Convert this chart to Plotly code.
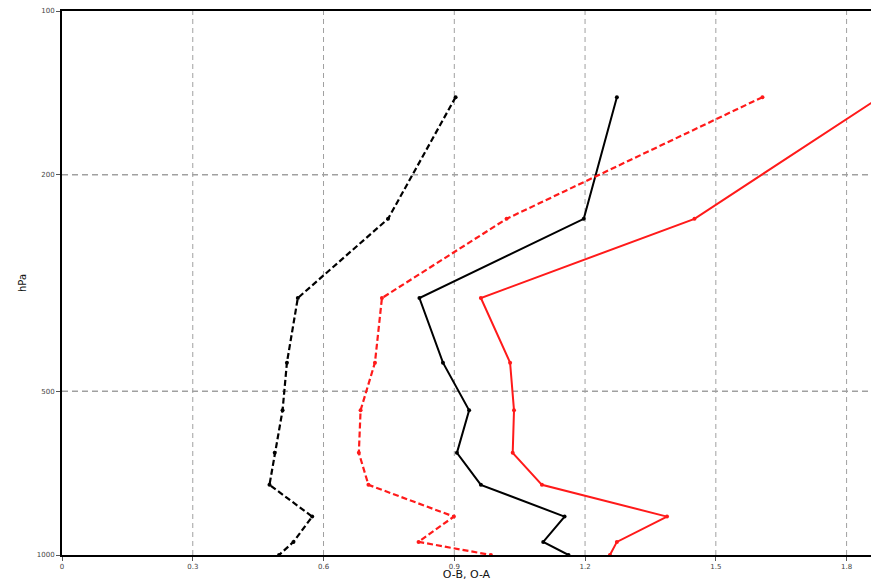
import plotly.graph_objects as go

# Pressure levels (hPa)
levels = [144, 241, 337, 443, 542, 649, 743, 850, 946, 1000]

# Statistics per level
black_dashed = [0.903, 0.748, 0.541, 0.516, 0.506, 0.488, 0.476, 0.574, 0.531, 0.498]
black_solid = [1.273, 1.197, 0.820, 0.874, 0.934, 0.906, 0.961, 1.153, 1.104, 1.162]
red_dashed = [1.607, 1.020, 0.734, 0.718, 0.685, 0.681, 0.703, 0.899, 0.818, 0.984]
red_solid = [1.877, 1.451, 0.961, 1.028, 1.037, 1.034, 1.101, 1.388, 1.273, 1.257]

x_ticks = [0, 0.3, 0.6, 0.9, 1.2, 1.5, 1.8]
x_tick_text = ["0", "0.3", "0.6", "0.9", "1.2", "1.5", "1.8"]
y_ticks = [100, 200, 500, 1000]
y_tick_text = ["100", "200", "500", "1000"]

fig = go.Figure()

def add(xv, color, dash, width):
    fig.add_trace(go.Scatter(
        x=xv, y=levels, mode="lines+markers",
        line=dict(color=color, width=width, dash=dash),
        marker=dict(color=color, size=4),
        showlegend=False, cliponaxis=True,
    ))

add(black_dashed, "black", "6px,3px", 2.2)
add(black_solid, "black", "solid", 2)
add(red_dashed, "#ff1a1a", "6px,3px", 2.2)
add(red_solid, "#ff1a1a", "solid", 2)

grid_color = "#a0a0a0"
for xv in x_ticks[1:]:
    fig.add_shape(type="line", xref="x", yref="paper", x0=xv, x1=xv, y0=0, y1=1,
                  line=dict(color=grid_color, width=1, dash="5px,4px"), layer="below")
for yv in [200, 500]:
    fig.add_shape(type="line", xref="paper", yref="y", x0=0, x1=1, y0=yv, y1=yv,
                  line=dict(color=grid_color, width=1.3, dash="6px,4px"), layer="below")

fig.update_layout(
    width=871, height=581,
    margin=dict(l=62, r=0, t=11, b=26, autoexpand=False),
    paper_bgcolor="white", plot_bgcolor="white",
    font=dict(family="DejaVu Sans", color="#222"),
    xaxis=dict(
        range=[0, 1.856], tickvals=x_ticks, ticktext=x_tick_text,
        showgrid=False, zeroline=False, automargin=False,
        showline=True, linecolor="black", linewidth=1.5, mirror=True,
        ticks="outside", ticklen=4, tickcolor="#555", tickwidth=1,
        tickfont=dict(size=7, color="#444"),
        title=dict(text="O-B, O-A", font=dict(size=11, color="#111"), standoff=10),
    ),
    yaxis=dict(
        type="log", range=[3, 2], tickvals=y_ticks, ticktext=y_tick_text,
        showgrid=False, zeroline=False, automargin=False,
        showline=True, linecolor="black", linewidth=2, mirror=False,
        ticks="outside", ticklen=4, tickcolor="#555", tickwidth=1,
        tickfont=dict(size=7, color="#444"),
        title=dict(text="hPa", font=dict(size=10, color="#111"), standoff=8),
    ),
)

fig.write_html(
    "out.html",
    config={"displayModeBar": False},
    post_script="document.body.style.margin='0';document.body.style.overflow='hidden';",
)
